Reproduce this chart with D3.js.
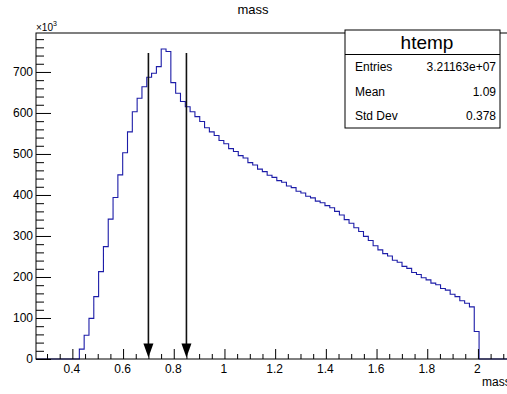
<!DOCTYPE html>
<html>
<head>
<meta charset="utf-8">
<script src="https://cdn.jsdelivr.net/npm/d3@7/dist/d3.min.js"></script>
<style>
	body { margin: 0; background: #fff; }
	svg { display: block; font-family: "Liberation Sans", Arial, Helvetica, sans-serif; }
</style>
</head>
<body>
<div id="chart"></div>
<script>

// htemp: mass histogram, 100 bins, counts in units of 10^3
var xMin = 0.2565,
	binWidth = 0.019;

var counts = [
	0, 0, 0, 0, 0, 0, 0, 0, 0, 24,
	58, 99, 152, 213, 274, 341, 394, 449, 503, 554,
	603, 636, 664, 687, 697, 713, 756, 750, 674, 648,
	628, 615, 603, 591, 579, 564, 554, 545, 533, 525,
	513, 506, 496, 490, 479, 473, 463, 457, 448, 443,
	435, 431, 422, 418, 409, 405, 397, 393, 385, 381,
	374, 369, 360, 351, 340, 331, 320, 311, 299, 289,
	276, 266, 257, 251, 241, 236, 226, 221, 211, 206,
	198, 193, 185, 181, 172, 168, 158, 152, 142, 136,
	127, 67, 0, 0, 0, 0, 0, 0, 0, 0
];

// the two cut arrows
var arrowX = [0.7, 0.85];
var arrowTop = 746;

// ticks
var xMajor = [0.4, 0.6, 0.8, 1.0, 1.2, 1.4, 1.6, 1.8, 2.0];
var yMajor = [0, 100, 200, 300, 400, 500, 600, 700];

// stats box
var statTitle = "htemp";
var statLabels = ["Entries", "Mean", "Std Dev"];
var statValues = ["3.21163e+07", "1.09", "0.378"];

var width = 507,
	height = 394;

var frame = { left: 36, top: 33, bottom: 359, right: 517.6 };

var xMax = xMin + counts.length * binWidth;

var x = d3.scaleLinear()
	.domain([xMin, xMax])
	.range([frame.left, frame.right]);

var y = d3.scaleLinear()
	.domain([0, 795])
	.range([frame.bottom, frame.top]);

var svg = d3.select("#chart").append("svg")
	.attr("width", width)
	.attr("height", height);

// title
svg.append("text")
	.attr("x", 253)
	.attr("y", 14)
	.attr("text-anchor", "middle")
	.style("font-size", "13px")
	.text("mass");

// histogram outline (step line)
var pts = [[xMin, 0]];
counts.forEach(function(c, i) {
	var x0 = xMin + i * binWidth;
	pts.push([x0, c]);
	pts.push([x0 + binWidth, c]);
});
pts.push([xMax, 0]);

var line = d3.line()
	.x(function(d) { return x(d[0]); })
	.y(function(d) { return y(d[1]); });

svg.append("path")
	.datum(pts)
	.attr("d", line)
	.attr("fill", "none")
	.attr("stroke", "#1c1ca8")
	.attr("stroke-width", 1.1);

// arrows
var arrows = svg.selectAll(".arrow")
	.data(arrowX)
  .enter().append("g")
	.attr("class", "arrow");

arrows.append("line")
	.attr("x1", function(d) { return x(d); })
	.attr("x2", function(d) { return x(d); })
	.attr("y1", y(arrowTop))
	.attr("y2", y(0) - 10)
	.attr("stroke", "#111")
	.attr("stroke-width", 1.6);

arrows.append("path")
	.attr("d", function(d) {
		var px = x(d), tip = y(0) - 1.5;
		return "M" + (px - 5) + "," + (tip - 14) + "L" + (px + 5) + "," + (tip - 14) + "L" + px + "," + tip + "Z";
	})
	.attr("fill", "#000");

// axes
var xMinor = d3.range(0.3, xMax, 0.05).filter(function(v) {
	return xMajor.every(function(m) { return Math.abs(m - v) > 1e-6; });
});
var yMinor = d3.range(20, 795, 20).filter(function(v) { return v % 100 !== 0; });

var gx = svg.append("g")
	.attr("transform", "translate(0," + frame.bottom + ")")
	.call(d3.axisBottom(x).tickValues(xMajor).tickSize(-10).tickPadding(5).tickFormat(d3.format("~g")));

svg.append("g")
	.attr("transform", "translate(0," + frame.bottom + ")")
	.call(d3.axisBottom(x).tickValues(xMinor).tickSize(-5).tickFormat(""));

var gy = svg.append("g")
	.attr("transform", "translate(" + frame.left + ",0)")
	.call(d3.axisLeft(y).tickValues(yMajor).tickSize(-15).tickPadding(3));

svg.append("g")
	.attr("transform", "translate(" + frame.left + ",0)")
	.call(d3.axisLeft(y).tickValues(yMinor).tickSize(-8).tickFormat(""));

svg.selectAll(".domain").remove();
svg.selectAll(".tick text")
	.attr("fill", "#000")
	.style("font-family", "'Liberation Sans', Arial, sans-serif")
	.style("font-size", "12px");
gx.selectAll(".tick text").attr("dx", "-1");

// frame
svg.append("rect")
	.attr("x", frame.left)
	.attr("y", frame.top)
	.attr("width", frame.right - frame.left)
	.attr("height", frame.bottom - frame.top)
	.attr("fill", "none")
	.attr("stroke", "#000")
	.attr("stroke-width", 1);

// x10^3 multiplier
var mult = svg.append("text")
	.attr("x", 36)
	.attr("y", 31)
	.style("font-size", "10px");
mult.append("tspan").text("\u00d710");
mult.append("tspan")
	.attr("dy", -5)
	.style("font-size", "7px")
	.text("3");

// x axis title
svg.append("text")
	.attr("x", 482)
	.attr("y", 386)
	.style("font-size", "12px")
	.text("mass");

// stats box
var box = { left: 345, top: 30, right: 500, bottom: 128 };
var rowH = (box.bottom - box.top) / 4;

var stats = svg.append("g");

stats.append("rect")
	.attr("x", box.left)
	.attr("y", box.top)
	.attr("width", box.right - box.left)
	.attr("height", box.bottom - box.top)
	.attr("fill", "#fff")
	.attr("stroke", "#000");

stats.append("line")
	.attr("x1", box.left)
	.attr("x2", box.right)
	.attr("y1", box.top + rowH)
	.attr("y2", box.top + rowH)
	.attr("stroke", "#000");

stats.append("text")
	.attr("x", 427)
	.attr("y", box.top + rowH / 2 + 6.5)
	.attr("text-anchor", "middle")
	.style("font-size", "19px")
	.text(statTitle);

statLabels.forEach(function(lab, i) {
	var cy = box.top + rowH * (i + 1.5) + 4.3;
	stats.append("text")
		.attr("x", box.left + 10)
		.attr("y", cy)
		.style("font-size", "12px")
		.text(lab);
	stats.append("text")
		.attr("x", box.right - 4)
		.attr("y", cy)
		.attr("text-anchor", "end")
		.style("font-size", "12px")
		.text(statValues[i]);
});

</script>
</body>
</html>
